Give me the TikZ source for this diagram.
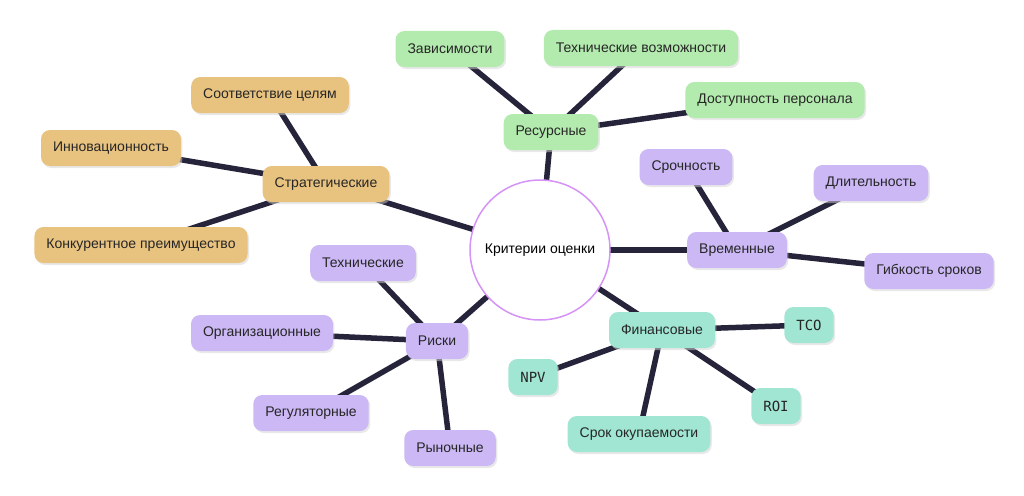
\documentclass[tikz,border=0pt]{standalone}
\usepackage{fontspec}
\setmainfont{Liberation Sans}
\newfontfamily\monofont{DejaVu Sans Mono}
\usetikzlibrary{backgrounds,shadows}
\definecolor{leafgreen}{HTML}{B3EBAE}
\definecolor{leaforange}{HTML}{E8C27F}
\definecolor{leafpurple}{HTML}{CBB8F5}
\definecolor{leafteal}{HTML}{A0E6D2}
\definecolor{edgeink}{HTML}{26243A}
\tikzset{
    box/.style={rounded corners=9pt,inner xsep=12pt,minimum height=36pt,
        font=\fontsize{14}{16}\selectfont,text=black!85,
        drop shadow={shadow xshift=1.5pt,shadow yshift=-2pt,fill=black!18}},
    gbox/.style={box,fill=leafgreen},
    obox/.style={box,fill=leaforange},
    pbox/.style={box,fill=leafpurple},
    tbox/.style={box,fill=leafteal},
    link/.style={edgeink,line width=5.5pt}
}
\begin{document}
\begin{tikzpicture}[x=1pt,y=-1pt]
    \useasboundingbox (0,0) rectangle (1024,495);
    %% Centre
    \node[circle,draw=leafpurple!80!magenta,line width=1.5pt,fill=white,
        minimum size=140pt,font=\fontsize{14}{16}\selectfont] (C) at (540,250) {Критерии оценки};
    %% Branches
    \node[gbox] (R) at (551,132) {Ресурсные};
    \node[obox] (S) at (326,184) {Стратегические};
    \node[pbox] (T) at (737,250) {Временные};
    \node[tbox] (F) at (662,330) {Финансовые};
    \node[pbox] (K) at (437,341) {Риски};
    %% Leaves
    \node[gbox] (R1) at (450,49) {Зависимости};
    \node[gbox] (R2) at (641,48) {Технические возможности};
    \node[gbox] (R3) at (775,100) {Доступность персонала};
    \node[obox] (S1) at (270,95) {Соответствие целям};
    \node[obox] (S2) at (111,148) {Инновационность};
    \node[obox] (S3) at (141,245) {Конкурентное преимущество};
    \node[pbox] (T1) at (686,167) {Срочность};
    \node[pbox] (T2) at (871,183) {Длительность};
    \node[pbox] (T3) at (929,271) {Гибкость сроков};
    \node[tbox,font=\monofont\fontsize{14}{16}\selectfont] (F1) at (809,325) {TCO};
    \node[tbox,font=\monofont\fontsize{14}{16}\selectfont] (F2) at (533,377) {NPV};
    \node[tbox,font=\monofont\fontsize{14}{16}\selectfont] (F3) at (776,406) {ROI};
    \node[tbox] (F4) at (639,434) {Срок окупаемости};
    \node[pbox] (K1) at (363,263) {Технические};
    \node[pbox] (K2) at (262,333) {Организационные};
    \node[pbox] (K3) at (311,413) {Регуляторные};
    \node[pbox] (K4) at (450,448) {Рыночные};
    %% Links
    \begin{scope}[on background layer]
        \foreach \a/\b in {C/R,C/S,C/T,C/F,C/K,R/R1,R/R2,R/R3,S/S1,S/S2,S/S3,
            T/T1,T/T2,T/T3,F/F1,F/F2,F/F3,F/F4,K/K1,K/K2,K/K3,K/K4}
            \draw[link] (\a.center) -- (\b.center);
    \end{scope}
\end{tikzpicture}
\end{document}
